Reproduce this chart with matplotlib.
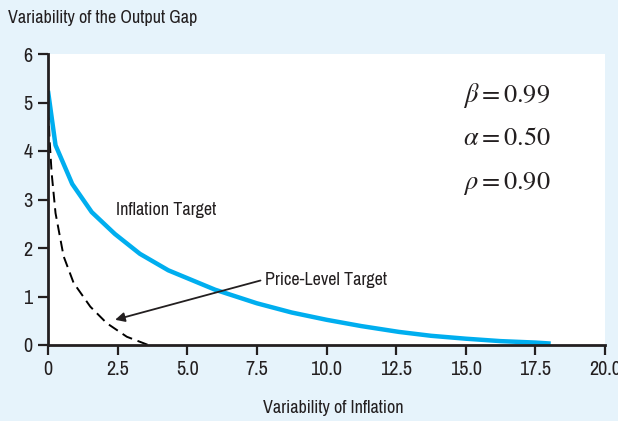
import matplotlib
matplotlib.use("Agg")
import matplotlib.pyplot as plt
from matplotlib import font_manager

# data
infl_x = [0, 0.27, 0.87, 1.57, 2.4, 3.3, 4.32, 6.0, 7.5, 8.75, 10.0, 11.25, 12.6, 13.75, 15.0, 16.25, 17.5, 18.05]
infl_y = [5.24, 4.12, 3.32, 2.74, 2.29, 1.88, 1.54, 1.14, 0.86, 0.67, 0.52, 0.39, 0.27, 0.19, 0.13, 0.08, 0.05, 0.03]

price_x = [0, 0.05, 0.13, 0.27, 0.56, 0.92, 1.52, 2.11, 2.83, 3.6]
price_y = [5.2, 4.3, 3.55, 2.72, 1.83, 1.28, 0.79, 0.45, 0.17, 0.0]

x_ticks = [0, 2.5, 5.0, 7.5, 10.0, 12.5, 15.0, 17.5, 20.0]
x_labels = ["0", "2.5", "5.0", "7.5", "10.0", "12.5", "15.0", "17.5", "20.0"]
y_ticks = [0, 1, 2, 3, 4, 5, 6]

params = [r"$\beta = 0.99$", r"$\alpha = 0.50$", r"$\rho = 0.90$"]

# pick a narrow sans if one is installed, else Roboto
names = sorted({f.name for f in font_manager.fontManager.ttflist})
narrow = [n for n in names if "Narrow" in n or "Condensed" in n]
main_font = narrow[0] if narrow else "Roboto"
plt.rcParams["font.family"] = [main_font, "DejaVu Sans"]
plt.rcParams["mathtext.fontset"] = "stix"
fs = 13 if narrow else 11.5

ink = "#231f20"
blue = "#00aeef"
bg = "#e6f3fb"

fig = plt.figure(figsize=(6.18, 4.21), dpi=100, facecolor=bg)
ax = fig.add_axes([48 / 618, 1 - 345 / 421, 557 / 618, 291 / 421])
ax.set_facecolor("white")

ax.plot(infl_x, infl_y, color=blue, lw=3.2, solid_capstyle="butt", zorder=3)
ax.plot(price_x, price_y, color="black", lw=1.4, dashes=(5.5, 3), zorder=2)

ax.set_xlim(0, 20)
ax.set_ylim(0, 6)
ax.set_xticks(x_ticks)
ax.set_xticklabels(x_labels)
ax.set_yticks(y_ticks)

for s in ["top", "right"]:
    ax.spines[s].set_visible(False)
for s in ["left", "bottom"]:
    ax.spines[s].set_linewidth(2)
    ax.spines[s].set_color(ink)
    ax.spines[s].set_zorder(4)
ax.tick_params(direction="out", length=7, width=1.6, color=ink,
               labelsize=fs + 1.5, labelcolor=ink, pad=4)

ax.text(2.45, 2.78, "Inflation Target", fontsize=fs, color=ink, va="center", ha="left")
ax.text(7.78, 1.33, "Price-Level Target", fontsize=fs, color=ink, va="center", ha="left")
ax.annotate("", xy=(2.41, 0.52), xytext=(7.63, 1.33),
            arrowprops=dict(arrowstyle="-|>", color=ink, lw=1.3,
                            mutation_scale=14, shrinkA=0, shrinkB=0))

for i, p in enumerate(params):
    ax.text(14.9, 5.02 - i * 0.9, p, fontsize=19, color=ink, va="baseline", ha="left")

fig.text(8 / 618, 1 - 23 / 421, "Variability of the Output Gap", fontsize=fs,
         color=ink, va="baseline", ha="left")
fig.text(333 / 618, 1 - 413 / 421, "Variability of Inflation", fontsize=fs,
         color=ink, va="baseline", ha="center")

fig.savefig("out.png", dpi=100, facecolor=bg)
